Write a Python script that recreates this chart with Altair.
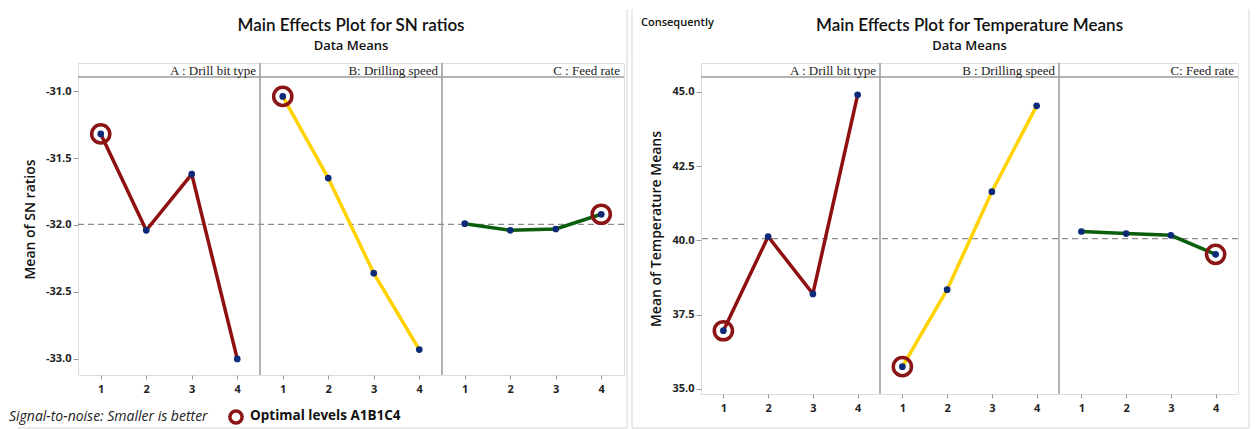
import altair as alt
import pandas as pd

levels = [1, 2, 3, 4]
optimal_levels = [1, 1, 4]

sn_factors = ["A : Drill bit type", "B: Drilling speed", "C : Feed rate"]
sn_A = [-31.32, -32.04, -31.62, -33.00]
sn_B = [-31.04, -31.65, -32.36, -32.93]
sn_C = [-31.99, -32.04, -32.03, -31.92]
sn_ticks = [-31.0, -31.5, -32.0, -32.5, -33.0]

temp_factors = ["A  : Drill bit type", "B : Drilling speed", "C: Feed rate"]
temp_A = [36.96, 40.13, 38.20, 44.90]
temp_B = [35.75, 38.34, 41.64, 44.53]
temp_C = [40.30, 40.23, 40.17, 39.53]
temp_ticks = [35.0, 37.5, 40.0, 42.5, 45.0]

line_colors = ["#8e1010", "#ffd200", "#0b5e0b"]
POINT_COLOR = "#0c2a78"
CIRCLE_COLOR = "#8b1414"
FRAME = "#9a9a9a"
PAPER_EDGE = "#d6d6d6"
SANS = "Open Sans"
TITLE_FONT = "Lato"
SERIF = "Liberation Serif"


def side(title, ytitle, factor_names, series, lo, hi, ticks, W, H, hdr, extras):
    rows = []
    for i, (name, vals) in enumerate(zip(factor_names, series)):
        for lv, v in zip(levels, vals):
            rows.append(dict(factor=name, x=i * 4 + lv, value=v,
                             optimal=bool(lv == optimal_levels[i])))
    df = pd.DataFrame(rows)
    ext_hi = hi + hdr * (hi - lo) / (H - hdr)
    xs = alt.Scale(domain=[0.5, 12.5], nice=False, zero=False)
    ys = alt.Scale(domain=[lo, ext_hi], nice=False, zero=False)
    xenc = alt.X("x:Q", scale=xs, axis=alt.Axis(
        values=list(range(1, 13)), labelExpr="((datum.value-1)%4)+1",
        title=None, domain=False, grid=False, tickSize=4, labelPadding=4,
        tickColor=FRAME, labelFont=SANS, labelFontSize=11, labelFontWeight="bold",
        labelColor="#222"))
    yenc = alt.Y("value:Q", scale=ys, axis=alt.Axis(
        values=ticks, labelExpr="replace(format(datum.value,'.1f'),'\u2212','-')",
        title=ytitle, domain=False, grid=False, tickSize=5, labelPadding=2,
        tickColor=FRAME, labelFont=SANS, labelFontSize=11, labelFontWeight="bold",
        labelColor="#222", titleFont=SANS, titleFontSize=14, titleFontWeight=600,
        titleColor="#111", titlePadding=8))
    base = alt.Chart(df)
    mean_rule = base.mark_rule(strokeDash=[6, 4], color="#8c8c8c", strokeWidth=1.2).encode(
        y=alt.Y("mean(value):Q", scale=ys))
    dividers = alt.Chart(pd.DataFrame({"x": [4.5, 8.5]})).mark_rule(
        color=FRAME, strokeWidth=1.5).encode(x=alt.X("x:Q", scale=xs))
    lines = base.mark_line(strokeWidth=3.5).encode(
        x=xenc, y=yenc,
        color=alt.Color("factor:N", scale=alt.Scale(domain=factor_names, range=line_colors),
                        legend=None))
    points = base.mark_point(filled=True, size=45, color=POINT_COLOR, opacity=1).encode(
        x=alt.X("x:Q", scale=xs), y=alt.Y("value:Q", scale=ys))
    circles = base.transform_filter("datum.optimal").mark_point(
        filled=False, size=330, strokeWidth=3.5, color=CIRCLE_COLOR, opacity=1).encode(
        x=alt.X("x:Q", scale=xs), y=alt.Y("value:Q", scale=ys))
    hdr_rule = alt.Chart(pd.DataFrame({"k": [0]})).mark_rule(
        color=FRAME, strokeWidth=1.5).encode(y=alt.value(hdr))
    hdr_text = alt.Chart(pd.DataFrame({"x": [4.5, 8.5, 12.5], "label": factor_names})).mark_text(
        align="right", baseline="middle", dx=-4, dy=1, font=SERIF, fontSize=13, color="#222").encode(
        x=alt.X("x:Q", scale=xs), y=alt.value(hdr / 2), text="label:N")
    one = pd.DataFrame({"k": [0]})
    title_mark = alt.Chart(one).mark_text(
        align="center", baseline="middle", font=TITLE_FONT, fontSize=17, fontWeight=600,
        color="#111", text=title).encode(x=alt.value(W / 2), y=alt.value(-37))
    subtitle_mark = alt.Chart(one).mark_text(
        align="center", baseline="middle", font=SANS, fontSize=13, fontWeight=600,
        color="#111", text="Data Means").encode(x=alt.value(W / 2), y=alt.value(-17))
    layers = [mean_rule, dividers, lines, points, circles, hdr_rule, hdr_text,
              title_mark, subtitle_mark] + extras
    return alt.layer(*layers).properties(width=W, height=H)


one = pd.DataFrame({"k": [0]})


def edge(x, x2=None, y=0, y2=None):
    enc = dict(x=alt.value(x), y=alt.value(y))
    if x2 is not None:
        enc["x2"] = alt.value(x2)
    if y2 is not None:
        enc["y2"] = alt.value(y2)
    return alt.Chart(one).mark_rule(color=PAPER_EDGE, strokeWidth=1).encode(**enc)


left_extras = [
    alt.Chart(one).mark_text(align="left", baseline="middle", font=SANS, fontSize=14,
                             fontStyle="italic", color="#222",
                             text="Signal-to-noise: Smaller is better").encode(
        x=alt.value(-69), y=alt.value(354)),
    alt.Chart(one).mark_point(filled=False, size=150, strokeWidth=3.5, color=CIRCLE_COLOR,
                              opacity=1).encode(x=alt.value(158), y=alt.value(354)),
    alt.Chart(one).mark_text(align="left", baseline="middle", font=SANS, fontSize=13.5,
                             fontWeight="bold", color="#111",
                             text="Optimal levels A1B1C4").encode(
        x=alt.value(172), y=alt.value(353)),
    edge(549, y=-54, y2=365),
    edge(-60, x2=549, y=365),
]
right_extras = [
    alt.Chart(one).mark_text(align="left", baseline="middle", font=SANS, fontSize=11,
                             fontWeight=600, color="#111", text="Consequently").encode(
        x=alt.value(-60), y=alt.value(-40)),
    edge(-69, y=-54, y2=365),
    edge(548, y=-54, y2=365),
    edge(-69, x2=548, y=365),
]

left = side("Main Effects Plot for SN ratios", "Mean of SN ratios", sn_factors,
            [sn_A, sn_B, sn_C], -33.12, -30.895, sn_ticks, 546, 312, 14, left_extras)
right = side("Main Effects Plot for Temperature Means", "Mean of Temperature Means",
             temp_factors, [temp_A, temp_B, temp_C], 34.83, 45.5, temp_ticks, 537, 331, 14,
             right_extras)

chart = alt.hconcat(left, right, spacing=3).properties(
    padding={"left": 0, "top": 0, "right": 0, "bottom": 0}
).configure_view(stroke=FRAME, strokeWidth=1.5).configure(background="white")

chart.save("out.html", embed_options={"renderer": "svg", "actions": False})
